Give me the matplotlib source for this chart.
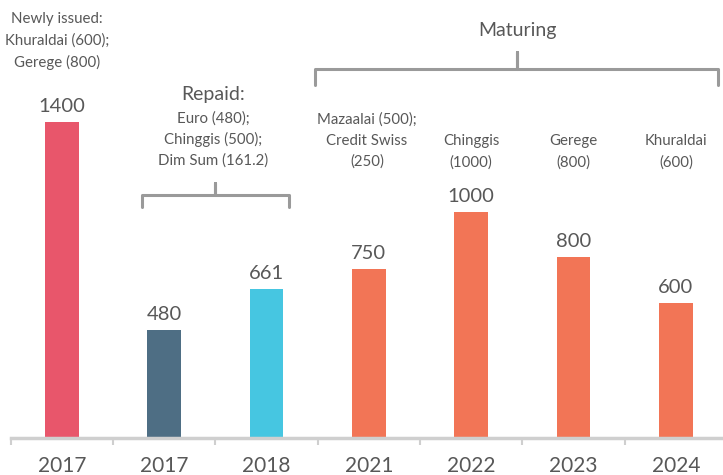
import numpy as np
import matplotlib
matplotlib.use("Agg")
import matplotlib.pyplot as plt

plt.rcParams['font.family'] = ['Lato', 'DejaVu Sans']

years = ["2017", "2017", "2018", "2021", "2022", "2023", "2024"]
values = [1400, 480, 661, 750, 1000, 800, 600]
value_labels = ["1400", "480", "661", "750", "1000", "800", "600"]
colors = ["#E8566B", "#4E6E84", "#46C6E1", "#F27556", "#F27556", "#F27556", "#F27556"]
maturing_notes = ["Mazaalai (500);\nCredit Swiss\n(250)", "Chinggis\n(1000)",
                  "Gerege\n(800)", "Khuraldai\n(600)"]
issued_note = "Newly issued:\nKhuraldai (600);\nGerege (800)"
repaid_note = "Euro (480);\nChinggis (500);\nDim Sum (161.2)"

txt = "#585858"
grey = "#9A9A9A"

fig = plt.figure(figsize=(7.23, 4.75), dpi=100)
ax = fig.add_axes([0, 0.078, 1, 0.922])
x = np.arange(len(values))
ax.bar(x, values, width=0.33, color=colors, zorder=2)
ax.set_xlim(-0.606, 6.461)
ax.set_ylim(0, 1940)

for xi, v, lab in zip(x, values, value_labels):
    ax.annotate(lab, (xi, v), xytext=(0, 5), textcoords="offset points",
                ha="center", va="bottom", fontsize=14.5, color=txt)

# axis
for s in ["top", "right", "left"]:
    ax.spines[s].set_visible(False)
ax.spines["bottom"].set_color("#CFCFCF")
ax.spines["bottom"].set_linewidth(2.5)
ax.spines["bottom"].set_bounds(-0.5, 6.461)
ax.set_yticks([])
ax.set_xticks(np.arange(-0.5, 6.5, 1.0), minor=True)
ax.tick_params(axis="x", which="minor", length=5, width=1.5, color="#CFCFCF")
ax.set_xticks(x)
ax.set_xticklabels(years, fontsize=15, color=txt)
ax.tick_params(axis="x", which="major", length=0, pad=13)

# annotations
ax.text(-0.05, 1758, issued_note, ha="center", va="center", fontsize=10.8,
        color=txt, linespacing=1.6)
ax.text(1.48, 1520, "Repaid:", ha="center", va="center", fontsize=14, color=txt)
ax.text(1.48, 1322, repaid_note, ha="center", va="center", fontsize=10.8,
        color=txt, linespacing=1.55)
ax.text(4.45, 1803, "Maturing", ha="center", va="center", fontsize=14, color=txt)

note_x = [2.98, 4.0, 5.0, 6.0]
note_y = [1316, 1267, 1267, 1267]
for nx, ny, note in zip(note_x, note_y, maturing_notes):
    ax.text(nx, ny, note, ha="center", va="center", fontsize=10.8,
            color=txt, linespacing=1.6)


def bracket(x0, x1, xm, y, ytop, ybot):
    ax.plot([x0, x0, xm, xm, xm, x1, x1], [ybot, y, y, ytop, y, y, ybot],
            color=grey, lw=2.2, solid_joinstyle="round", solid_capstyle="round")


bracket(0.78, 2.22, 1.5, 1077, 1130, 1023)
bracket(2.47, 6.41, 4.45, 1635, 1710, 1564)

fig.savefig("out.png", dpi=100)
